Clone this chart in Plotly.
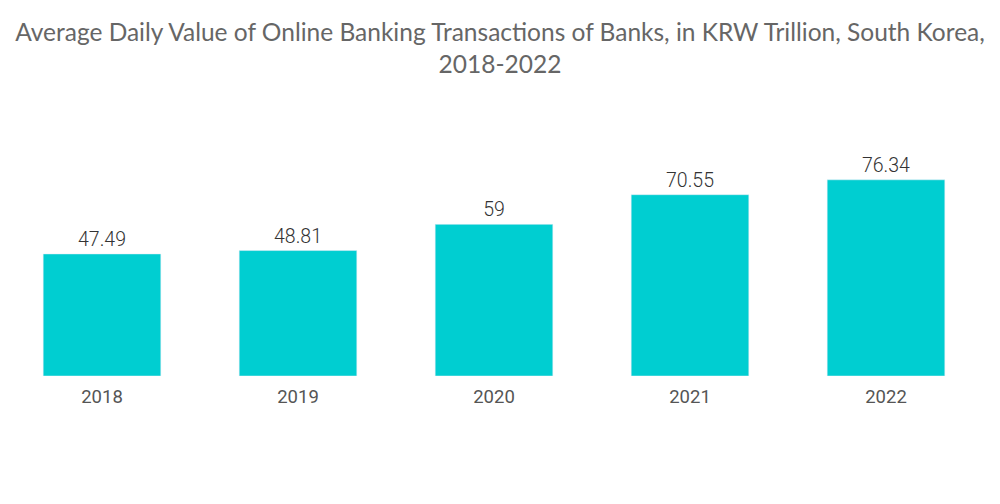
import plotly.graph_objects as go

years = ["2018", "2019", "2020", "2021", "2022"]
values = [47.49, 48.81, 59, 70.55, 76.34]
labels = ["47.49", "48.81", "59", "70.55", "76.34"]

fig = go.Figure(go.Bar(
    x=years, y=values, text=labels, textposition="outside",
    marker_color="#00CED1", width=0.6,
    textfont=dict(family="Roboto", size=19.5, color="#333333", weight=300),
    cliponaxis=False,
))
fig.update_layout(
    width=1000, height=504,
    margin=dict(l=0, r=24, t=111, b=136, autoexpand=False),
    plot_bgcolor="white", paper_bgcolor="white",
    title=dict(
        text="Average Daily Value of Online Banking Transactions of Banks, in KRW Trillion, South Korea,<br>2018-2022",
        x=0.492, xanchor="center", y=0.935, yanchor="top",
        font=dict(family="Lato", size=24.5, color="#666666"),
    ),
    showlegend=False,
)
fig.update_yaxes(range=[0, 100], visible=False)
fig.update_xaxes(range=[-0.4796, 4.5], showline=False, ticks="", automargin=False,
                 ticklabelstandoff=7,
                 tickfont=dict(family="Roboto", size=18.5, color="#555555"))
fig.write_html("out.html")
